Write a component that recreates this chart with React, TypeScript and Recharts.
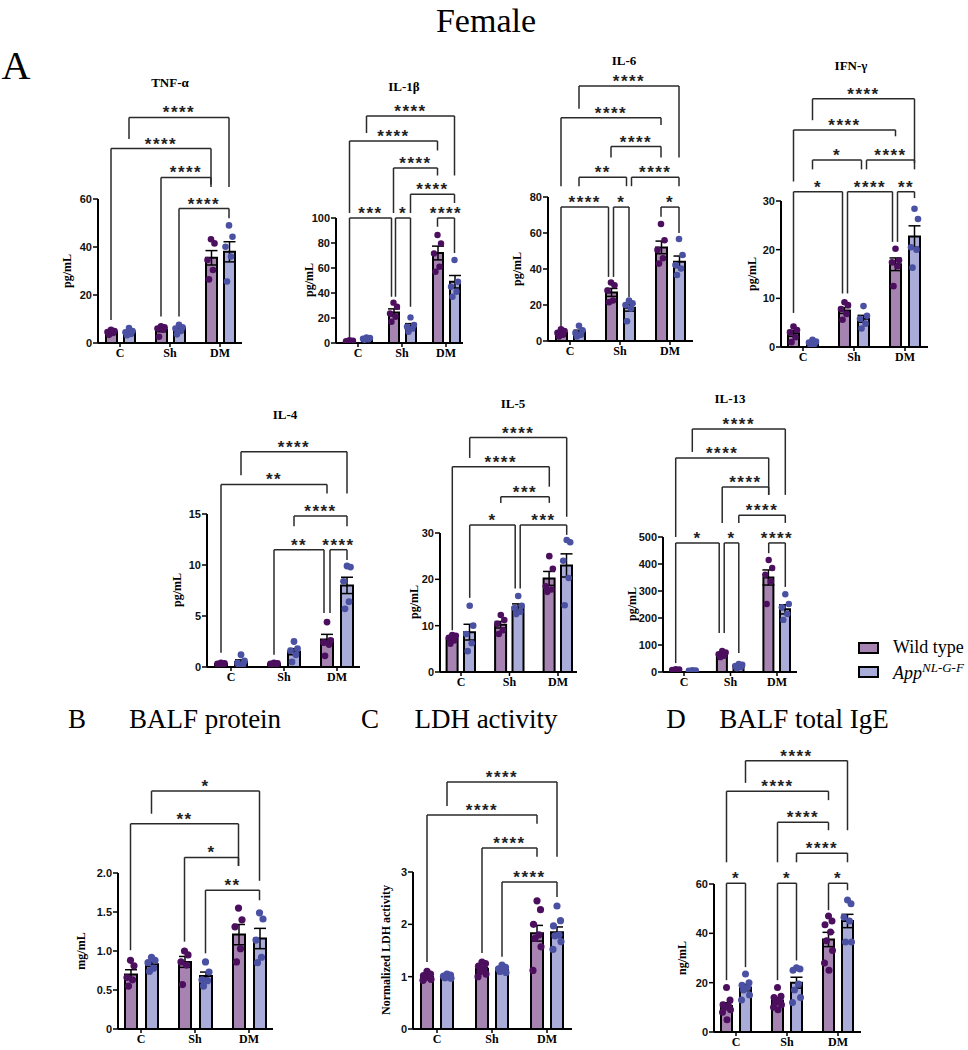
import React from "react";
import { ComposedChart, Bar, Cell, ErrorBar, Scatter, XAxis, YAxis, ReferenceLine } from "recharts";

const groups = ["C", "Sh", "DM"];
const WT_FILL = "#a683b0";
const APP_FILL = "#a9acd8";
const WT_DOT = "#4c0f5e";
const APP_DOT = "#4a50a2";
const LINE = "#2a2a2a";

// bar order: C-WT, C-App, Sh-WT, Sh-App, DM-WT, DM-App
// bracket: [fromBar, toBar, top, leftLegEnd, rightLegEnd, label, nudgeFromPx, nudgeToPx]
type Bracket = [number, number, number, number, number, string, number?, number?];

// TNF-α
const tnfMeans = [4.5, 4.5, 5.5, 6.0, 35.5, 38.0];
const tnfSem = [0.4, 0.5, 0.8, 0.8, 3.0, 4.2];
const tnfPoints = [
  [5.5, 5.0, 4.6, 4.2, 3.4],
  [6.2, 5.0, 4.5, 3.8, 3.2],
  [7.0, 6.5, 6.0, 5.5, 2.6],
  [7.6, 6.5, 6.0, 5.0, 3.6],
  [43.2, 41.5, 34.6, 30.4, 26.5],
  [49.0, 44.3, 40.1, 36.0, 25.6],
];
const tnfTicks = [0, 20, 40, 60];
const tnfBrackets: Bracket[] = [
  [1, 5, 94, 85, 65, "****"],
  [0, 4, 81, 9.6, 66, "****"],
  [2, 4, 69, 11, 65, "****"],
  [3, 5, 56, 11, 52, "****"],
];

// IL-1β
const il1Means = [1.5, 3.5, 24.5, 13.5, 72, 49];
const il1Sem = [0.3, 0.4, 2.8, 2.0, 5.5, 5.0];
const il1Points = [
  [2.2, 1.8, 1.4, 1.0, 0.8],
  [4.5, 4.0, 3.5, 3.0, 2.6],
  [32.3, 29.0, 23.7, 21.0, 17.0],
  [20.5, 14.5, 13.0, 11.5, 9.0],
  [86.4, 79.7, 71.7, 61.0, 57.0],
  [66.4, 49.0, 45.0, 41.0, 37.0],
];
const il1Ticks = [0, 20, 40, 60, 80, 100];
const il1Brackets: Bracket[] = [
  [1, 5, 181.6, 168, 134, "****"],
  [0, 4, 161.6, 104, 154, "****"],
  [2, 4, 140, 104, 134, "****"],
  [3, 5, 119, 104, 112, "****"],
  [0, 2, 100, 4, 37, "***", 0, -2],
  [2, 3, 100, 37, 29, "*", 2, 0],
  [4, 5, 100, 93, 72, "****"],
];

// IL-6
const il6Means = [4.5, 5.0, 27, 18.5, 52, 44];
const il6Sem = [0.6, 1.0, 2.2, 1.9, 3.5, 3.2];
const il6Points = [
  [6.5, 5.5, 4.5, 3.5, 2.5],
  [8.5, 6.0, 4.5, 3.5, 2.5],
  [32.5, 31.0, 28.0, 22.5, 21.5],
  [22.5, 21.0, 20.0, 18.0, 11.0],
  [65.0, 56.0, 50.6, 46.0, 43.0],
  [56.7, 47.8, 42.2, 40.3, 36.7],
];
const il6Ticks = [0, 20, 40, 60, 80];
const il6Brackets: Bracket[] = [
  [1, 5, 141.7, 129, 102, "****"],
  [0, 4, 124, 86, 120, "****"],
  [2, 4, 108, 102, 102, "****"],
  [1, 3, 91, 86, 86, "**", 0, -2.5],
  [3, 5, 91, 86, 86, "****", 2.5, 0],
  [0, 2, 74.4, 5, 35.6, "****", 0, -2.5],
  [2, 3, 74.4, 35.6, 24.4, "*", 2.5, 0],
  [4, 5, 74.4, 69, 60, "*"],
];

// IFN-γ
const ifnMeans = [2.8, 0.9, 7.5, 5.8, 17.0, 22.7];
const ifnSem = [0.6, 0.2, 0.6, 0.7, 1.3, 2.2];
const ifnPoints = [
  [4.2, 3.5, 3.0, 2.0, 1.0],
  [1.5, 1.1, 0.9, 0.6, 0.4],
  [9.2, 8.6, 7.8, 6.8, 5.6],
  [8.4, 6.4, 5.8, 4.8, 3.8],
  [20.2, 17.8, 17.4, 16.6, 12.5],
  [28.4, 26.3, 20.5, 20.0, 16.3],
];
const ifnTicks = [0, 10, 20, 30];
const ifnBrackets: Bracket[] = [
  [1, 5, 51, 46.6, 37.8, "****"],
  [0, 4, 44.6, 34, 43.3, "****"],
  [1, 3, 38.4, 36.5, 36.5, "*", 0, -2],
  [3, 5, 38.4, 36.5, 36.5, "****", 3, 0],
  [0, 2, 31.9, 7, 11, "*", 0, -2],
  [2, 4, 31.9, 11, 21.6, "****", 3, -3],
  [4, 5, 31.9, 21.6, 30.6, "**", 2, 0],
];

// IL-4
const il4Means = [0.3, 0.5, 0.3, 1.5, 2.7, 8.0];
const il4Sem = [0.05, 0.2, 0.05, 0.3, 0.5, 0.8];
const il4Points = [
  [0.4, 0.35, 0.3, 0.25, 0.2],
  [1.2, 0.6, 0.4, 0.25, 0.1],
  [0.4, 0.35, 0.3, 0.28, 0.2],
  [2.5, 1.8, 1.6, 1.2, 0.5],
  [4.4, 2.6, 2.4, 2.2, 1.1],
  [9.9, 9.8, 8.4, 6.4, 5.7],
];
const il4Ticks = [0, 5, 10, 15];
const il4Brackets: Bracket[] = [
  [1, 5, 21.1, 18.8, 17, "****"],
  [0, 4, 17.9, 1.4, 17, "**"],
  [3, 5, 14.8, 13.8, 13.8, "****"],
  [2, 4, 11.5, 1.2, 5.3, "**", 0, -3],
  [4, 5, 11.5, 5.3, 10.5, "****", 3, 0],
];

// IL-5
const il5Means = [7.2, 8.6, 10.2, 14.0, 20.2, 23.0];
const il5Sem = [0.4, 1.7, 0.7, 0.7, 1.5, 2.5];
const il5Points = [
  [8.0, 7.8, 7.4, 6.8, 6.1],
  [14.3, 10.0, 8.2, 6.2, 4.5],
  [12.3, 11.2, 10.4, 9.0, 8.2],
  [16.4, 14.3, 13.8, 13.0, 12.5],
  [25.0, 22.3, 18.5, 17.8, 17.3],
  [28.5, 28.0, 24.0, 20.3, 14.4],
];
const il5Ticks = [0, 10, 20, 30];
const il5Brackets: Bracket[] = [
  [1, 5, 50.6, 46.2, 33.5, "****"],
  [0, 4, 44.3, 9, 40, "****"],
  [2, 4, 37.8, 36.5, 36.5, "***"],
  [1, 3, 31.7, 16, 18, "*", 0, -3],
  [3, 5, 31.7, 18, 29.6, "***", 2, 0],
];

// IL-13
const il13Means = [8, 5, 65, 22, 350, 232];
const il13Sem = [1, 1, 4, 3, 28, 17];
const il13Points = [
  [10, 9, 8, 7, 6],
  [7, 6, 5, 4, 3],
  [78, 72, 66, 60, 55],
  [30, 27, 22, 18, 14],
  [415, 385, 360, 335, 252],
  [288, 252, 240, 215, 193],
];
const il13Ticks = [0, 100, 200, 300, 400, 500];
const il13Brackets: Bracket[] = [
  [1, 5, 900, 815, 656, "****"],
  [0, 4, 793, 500, 656, "****"],
  [2, 4, 685, 552, 656, "****"],
  [3, 5, 581, 552, 552, "****"],
  [0, 2, 478, 33, 144, "*", 0, -3],
  [2, 3, 478, 144, 70, "*", 2, 0],
  [4, 5, 478, 440, 315, "****"],
];

// BALF protein
const protMeans = [0.70, 0.83, 0.86, 0.68, 1.21, 1.16];
const protSem = [0.06, 0.03, 0.07, 0.05, 0.13, 0.13];
const protPoints = [
  [0.88, 0.81, 0.66, 0.63, 0.55],
  [0.92, 0.88, 0.85, 0.78, 0.74],
  [1.0, 0.95, 0.86, 0.82, 0.57],
  [0.86, 0.73, 0.63, 0.62, 0.55],
  [1.55, 1.40, 1.31, 1.03, 0.86],
  [1.49, 1.41, 1.14, 0.92, 0.85],
];
const protTicks = [0, 0.5, 1.0, 1.5, 2.0];
const protBrackets: Bracket[] = [
  [1, 5, 3.05, 2.76, 1.9, "*"],
  [0, 4, 2.63, 1.01, 2.09, "**"],
  [2, 4, 2.2, 1.12, 2.09, "*"],
  [3, 5, 1.78, 0.97, 1.65, "**"],
];

// LDH activity
const ldhMeans = [1.0, 1.0, 1.15, 1.13, 1.83, 1.85];
const ldhSem = [0.02, 0.01, 0.03, 0.02, 0.15, 0.1];
const ldhPoints = [
  [1.1, 1.05, 1.02, 1.0, 0.98, 0.95, 0.93],
  [1.05, 1.03, 1.01, 1.0, 0.98, 0.97],
  [1.28, 1.25, 1.2, 1.15, 1.1, 1.05, 1.0],
  [1.22, 1.18, 1.15, 1.12, 1.1, 1.08],
  [2.45, 2.28, 2.0, 1.8, 1.73, 1.57, 1.12],
  [2.35, 2.07, 1.97, 1.8, 1.78, 1.67, 1.52],
];
const ldhTicks = [0, 1, 2, 3];
const ldhBrackets: Bracket[] = [
  [1, 5, 4.72, 4.26, 3.29, "****"],
  [0, 4, 4.09, 1.28, 3.92, "****"],
  [2, 4, 3.46, 1.45, 3.29, "****"],
  [3, 5, 2.81, 1.38, 2.52, "****"],
];

// BALF total IgE
const igeMeans = [10.5, 18, 12.8, 20, 37.5, 45];
const igeSem = [1.4, 1.3, 1.1, 2.2, 2.9, 2.7];
const igePoints = [
  [18, 13, 11, 10.5, 10, 9, 8, 5],
  [23.5, 20, 19, 18, 17, 15, 13],
  [18, 14.5, 14, 13, 12, 11, 10, 9],
  [26, 25.5, 25, 19.5, 17, 14, 12],
  [47, 45, 43.5, 40.5, 37, 33, 28, 25],
  [53.5, 52, 46.5, 45, 36.5, 36.5],
];
const igeTicks = [0, 20, 40, 60];
const igeBrackets: Bracket[] = [
  [1, 5, 110, 101, 81.8, "****"],
  [0, 4, 97.6, 68.8, 94, "****"],
  [2, 4, 85, 68.8, 81.8, "****"],
  [3, 5, 72.5, 68.8, 68.8, "****"],
  [0, 1, 60.3, 21, 26.3, "*"],
  [2, 3, 60.3, 21, 29, "*"],
  [4, 5, 60.3, 49.4, 57.5, "*"],
];

interface Layout {
  axX: number; axR: number; c0: number; sp: number; off: number;
  y0: number; yT: number; yTop: number; bar: number; mb: number; r: number;
}

const JIT = [0, 3.5, -3.5, 2, -2, 4, -4, 0.5];

function Panel(props: {
  means: number[]; sem: number[]; points: number[][]; ticks: number[];
  brackets: Bracket[]; lay: Layout; fmt?: (v: number) => string;
}) {
  const { means, sem, points, ticks, brackets, lay, fmt } = props;
  const { axX, axR, c0, sp, off, y0, yT, yTop, bar, mb, r } = lay;
  const ML = 40, MR = 6, MT = 16;
  const maxTick = ticks[ticks.length - 1];
  const ppu = (y0 - yT) / maxTick;
  const ymax = (y0 - yTop) / ppu;
  const d0 = (axX - c0) / sp;
  const d1 = (axR - c0) / sp;
  const bx = (i: number) => Math.floor(i / 2) + (i % 2 ? off : -off) / sp;
  const rows = means.map((m, i) => ({ x: bx(i), mean: m, sem: sem[i] }));
  const wt: { x: number; y: number }[] = [];
  const app: { x: number; y: number }[] = [];
  points.forEach((arr, i) =>
    arr.forEach((v, j) => (i % 2 ? app : wt).push({ x: bx(i) + JIT[j % JIT.length] / sp, y: v }))
  );
  const W = axR - axX + ML + MR;
  const H = y0 - yTop + MT + mb;
  const segs: React.ReactNode[] = [];
  brackets.forEach((b, k) => {
    const xa = bx(b[0]) + (b[6] || 0) / sp;
    const xb = bx(b[1]) + (b[7] || 0) / sp;
    segs.push(
      <ReferenceLine key={`l${k}`} segment={[{ x: xa, y: b[3] }, { x: xa, y: b[2] }]} stroke={LINE} strokeWidth={1.5} />,
      <ReferenceLine key={`r${k}`} segment={[{ x: xb, y: b[4] }, { x: xb, y: b[2] }]} stroke={LINE} strokeWidth={1.5} />,
      <ReferenceLine
        key={`t${k}`}
        segment={[{ x: xa, y: b[2] }, { x: xb, y: b[2] }]}
        stroke={LINE}
        strokeWidth={1.5}
        label={{ value: b[5], position: "top", offset: -1, fill: "#222", fontSize: 17, fontWeight: 700, fontFamily: "Liberation Sans, Arial", letterSpacing: 1.5 }}
      />
    );
  });
  return (
    <div style={{ position: "absolute", left: axX - ML, top: yTop - MT }}>
      <ComposedChart width={W} height={H} data={rows} margin={{ top: MT, right: MR, left: 0, bottom: 0 }}>
        <XAxis
          type="number"
          dataKey="x"
          domain={[d0, d1]}
          allowDataOverflow
          ticks={[0, 1, 2]}
          tickFormatter={(v: number) => groups[v] ?? ""}
          height={mb}
          axisLine={{ stroke: "#000", strokeWidth: 2 }}
          tickLine={{ stroke: "#000", strokeWidth: 1.5 }}
          tickSize={4}
          tickMargin={1}
          tick={{ fill: "#000", fontSize: 12, fontWeight: 700, fontFamily: "Liberation Serif, Times New Roman" }}
        />
        <XAxis xAxisId="pts" type="number" dataKey="x" domain={[d0, d1]} allowDataOverflow hide />
        <YAxis
          type="number"
          domain={[0, ymax]}
          allowDataOverflow
          ticks={ticks}
          width={ML}
          axisLine={false}
          tickLine={{ stroke: "#000", strokeWidth: 1.5 }}
          tickSize={5}
          tickMargin={1}
          tickFormatter={fmt}
          tick={{ fill: "#111", fontSize: 11, fontWeight: 700, fontFamily: "Liberation Sans, Arial" }}
        />
        <ReferenceLine segment={[{ x: d0, y: 0 }, { x: d0, y: maxTick }]} stroke="#000" strokeWidth={2} />
        <Bar dataKey="mean" barSize={bar} stroke="#000" strokeWidth={2} isAnimationActive={false}>
          {rows.map((_, i) => (
            <Cell key={i} fill={i % 2 ? APP_FILL : WT_FILL} />
          ))}
          <ErrorBar dataKey="sem" width={6} stroke="#000" strokeWidth={1.5} direction="y" />
        </Bar>
        <Scatter
          xAxisId="pts"
          data={wt}
          dataKey="y"
          isAnimationActive={false}
          shape={(p: any) => <circle cx={p.cx} cy={p.cy} r={r} fill={WT_DOT} />}
        />
        <Scatter
          xAxisId="pts"
          data={app}
          dataKey="y"
          isAnimationActive={false}
          shape={(p: any) => <circle cx={p.cx} cy={p.cy} r={r} fill={APP_DOT} />}
        />
        {segs}
      </ComposedChart>
    </div>
  );
}

const serif = "Liberation Serif, Times New Roman, serif";

function Txt(props: { x: number; y: number; size: number; bold?: boolean; rot?: boolean; children: React.ReactNode }) {
  const { x, y, size, bold, rot, children } = props;
  return (
    <div
      style={{
        position: "absolute",
        left: x,
        top: y,
        fontSize: size,
        fontWeight: bold ? 700 : 400,
        fontFamily: serif,
        whiteSpace: "nowrap",
        lineHeight: 1.1,
        transform: `translate(-50%, -50%)${rot ? " rotate(-90deg)" : ""}`,
        color: "#000",
      }}
    >
      {children}
    </div>
  );
}

export default function App() {
  return (
    <div style={{ position: "absolute", left: 0, top: 0, width: 968, height: 1050, overflow: "hidden", background: "#fff" }}>
      <Txt x={486} y={21} size={34}>Female</Txt>
      <Txt x={16} y={66} size={40}>A</Txt>

      <Txt x={170} y={83} size={13} bold>TNF-α</Txt>
      <Txt x={404} y={87} size={13} bold>IL-1β</Txt>
      <Txt x={624} y={61} size={13} bold>IL-6</Txt>
      <Txt x={851} y={66} size={13} bold>IFN-γ</Txt>
      <Txt x={285} y={415} size={13} bold>IL-4</Txt>
      <Txt x={513} y={404} size={13} bold>IL-5</Txt>
      <Txt x={730} y={399} size={13} bold>IL-13</Txt>

      <Txt x={68} y={271} size={12} bold rot>pg/mL</Txt>
      <Txt x={310} y={280} size={12} bold rot>pg/mL</Txt>
      <Txt x={518} y={269} size={12} bold rot>pg/mL</Txt>
      <Txt x={753} y={274} size={12} bold rot>pg/mL</Txt>
      <Txt x={178} y={590} size={12} bold rot>pg/mL</Txt>
      <Txt x={415} y={602} size={12} bold rot>pg/mL</Txt>
      <Txt x={633} y={604} size={12} bold rot>pg/mL</Txt>
      <Txt x={82} y={951} size={12} bold rot>mg/mL</Txt>
      <Txt x={387} y={950} size={12} bold rot>Normalized LDH activity</Txt>
      <Txt x={683} y={958} size={12} bold rot>ng/mL</Txt>

      <Txt x={77} y={720} size={27}>B</Txt>
      <Txt x={205} y={720} size={27}>BALF protein</Txt>
      <Txt x={370} y={720} size={27}>C</Txt>
      <Txt x={486} y={720} size={27}>LDH activity</Txt>
      <Txt x={676} y={720} size={27}>D</Txt>
      <Txt x={804} y={720} size={27}>BALF total IgE</Txt>

      <Panel means={tnfMeans} sem={tnfSem} points={tnfPoints} ticks={tnfTicks} brackets={tnfBrackets}
        lay={{ axX: 98, axR: 242, c0: 120, sp: 50, off: 9, y0: 343, yT: 199, yTop: 110, bar: 11, mb: 24, r: 3.3 }} />
      <Panel means={il1Means} sem={il1Sem} points={il1Points} ticks={il1Ticks} brackets={il1Brackets}
        lay={{ axX: 336, axR: 463, c0: 358, sp: 44, off: 8.5, y0: 343, yT: 218, yTop: 110, bar: 10, mb: 24, r: 3.2 }} />
      <Panel means={il6Means} sem={il6Sem} points={il6Points} ticks={il6Ticks} brackets={il6Brackets}
        lay={{ axX: 548, axR: 693, c0: 570, sp: 50, off: 9, y0: 341, yT: 197, yTop: 80, bar: 11, mb: 24, r: 3.3 }} />
      <Panel means={ifnMeans} sem={ifnSem} points={ifnPoints} ticks={ifnTicks} brackets={ifnBrackets}
        lay={{ axX: 781, axR: 928, c0: 803, sp: 51, off: 9.5, y0: 347, yT: 201, yTop: 92, bar: 11, mb: 24, r: 3.3 }} />
      <Panel means={il4Means} sem={il4Sem} points={il4Points} ticks={il4Ticks} brackets={il4Brackets}
        lay={{ axX: 207, axR: 360, c0: 231, sp: 53, off: 10, y0: 667, yT: 514, yTop: 446, bar: 12, mb: 24, r: 3.4 }} />
      <Panel means={il5Means} sem={il5Sem} points={il5Points} ticks={il5Ticks} brackets={il5Brackets}
        lay={{ axX: 440, axR: 577, c0: 461, sp: 48.5, off: 8.7, y0: 672, yT: 533, yTop: 432, bar: 11, mb: 24, r: 3.3 }} />
      <Panel means={il13Means} sem={il13Sem} points={il13Points} ticks={il13Ticks} brackets={il13Brackets}
        lay={{ axX: 663, axR: 797, c0: 684, sp: 46.5, off: 8.3, y0: 672, yT: 537, yTop: 423, bar: 10, mb: 24, r: 3.2 }} />
      <Panel means={protMeans} sem={protSem} points={protPoints} ticks={protTicks} brackets={protBrackets}
        fmt={(v: number) => (v === 0 ? "0" : v.toFixed(1))}
        lay={{ axX: 118, axR: 273, c0: 141, sp: 54, off: 10.5, y0: 1029, yT: 873, yTop: 784, bar: 12, mb: 21, r: 3.6 }} />
      <Panel means={ldhMeans} sem={ldhSem} points={ldhPoints} ticks={ldhTicks} brackets={ldhBrackets}
        lay={{ axX: 413, axR: 572, c0: 437, sp: 55, off: 10, y0: 1029, yT: 872, yTop: 775, bar: 12, mb: 21, r: 3.6 }} />
      <Panel means={igeMeans} sem={igeSem} points={igePoints} ticks={igeTicks} brackets={igeBrackets}
        lay={{ axX: 714, axR: 861, c0: 736, sp: 51, off: 9.5, y0: 1032, yT: 884, yTop: 753, bar: 11, mb: 18, r: 3.5 }} />

      <div style={{ position: "absolute", left: 858, top: 642, width: 21, height: 12, background: WT_FILL, border: "2px solid #000", boxSizing: "border-box" }} />
      <div style={{ position: "absolute", left: 893, top: 637, fontSize: 18, fontFamily: serif, whiteSpace: "nowrap" }}>Wild type</div>
      <div style={{ position: "absolute", left: 858, top: 666, width: 21, height: 12, background: APP_FILL, border: "2px solid #000", boxSizing: "border-box" }} />
      <div style={{ position: "absolute", left: 893, top: 660, fontSize: 18, fontFamily: serif, fontStyle: "italic", whiteSpace: "nowrap" }}>
        App<sup style={{ fontSize: 13 }}>NL-G-F</sup>
      </div>
    </div>
  );
}
